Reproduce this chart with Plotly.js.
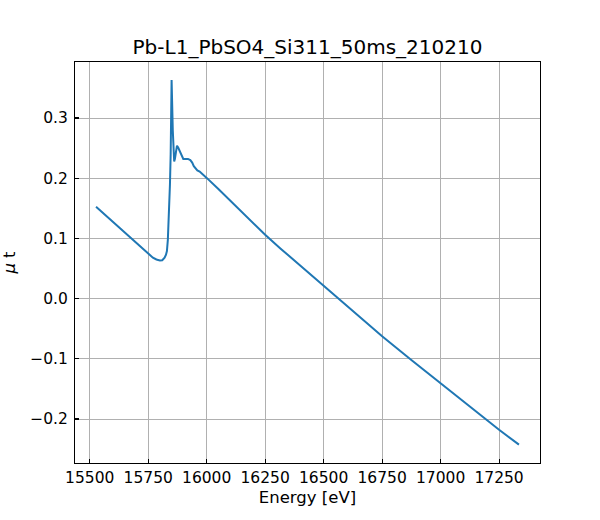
<!DOCTYPE html>
<html>
<head>
<meta charset="utf-8">
<script src="https://cdn.plot.ly/plotly-3.0.1.min.js"></script>
<style>
  html, body { margin: 0; padding: 0; background: #fff; }
  #chart { width: 600px; height: 520px; }
</style>
</head>
<body>
<div id="chart"></div>
<script>
  // Pb L1-edge spectrum
  const chartTitle = 'Pb-L1_PbSO4_Si311_50ms_210210';

  const energy = [
    15527, 15600, 15665, 15700, 15747, 15770, 15785, 15800, 15810, 15820,
    15826, 15830, 15834, 15837, 15840, 15843, 15846, 15848, 15850, 15852,
    15855, 15858, 15861, 15864, 15868, 15873, 15878, 15884, 15890, 15895,
    15900, 15910, 15920, 15930, 15938, 15945, 15952, 15960, 15970, 15985,
    16000, 16050, 16100, 16150, 16200, 16250, 16315, 16400, 16500, 16600,
    16750, 16875, 17000, 17125, 17250, 17335
  ];

  const mu = [
    0.1526, 0.127, 0.1038, 0.0915, 0.075, 0.068, 0.065, 0.0635, 0.0638, 0.068,
    0.073, 0.079, 0.098, 0.125, 0.16, 0.19, 0.24, 0.30, 0.363, 0.33,
    0.28, 0.245, 0.228, 0.232, 0.245, 0.254, 0.251, 0.246, 0.239, 0.234,
    0.232, 0.232, 0.232, 0.230, 0.226, 0.220, 0.216, 0.213, 0.211, 0.206,
    0.2005, 0.182, 0.163, 0.145, 0.126, 0.106, 0.0834, 0.055, 0.021, -0.0124,
    -0.0624, -0.102, -0.141, -0.179, -0.2177, -0.2425
  ];

  const xTicks = [15500, 15750, 16000, 16250, 16500, 16750, 17000, 17250];
  const yTicks = [-0.2, -0.1, 0.0, 0.1, 0.2, 0.3];

  const font = 'DejaVu Sans, sans-serif';
  const gridColor = '#b0b0b0';

  const trace = {
    x: energy,
    y: mu,
    mode: 'lines',
    line: { color: '#1f77b4', width: 2 },
    hoverinfo: 'skip',
  };

  const axisBase = {
    showline: true,
    linecolor: '#000',
    linewidth: 1.1,
    mirror: true,
    ticks: 'inside',
    ticklen: 4,
    tickwidth: 1.1,
    tickcolor: '#000',
    showgrid: true,
    gridcolor: gridColor,
    gridwidth: 1,
    zeroline: false,
    tickfont: { family: font, size: 15.5, color: '#000' },
  };

  const layout = {
    width: 600,
    height: 520,
    paper_bgcolor: '#fff',
    plot_bgcolor: '#fff',
    font: { family: font, color: '#000' },
    margin: { l: 75, r: 60, t: 62, b: 57 },
    showlegend: false,
    title: {
      text: chartTitle,
      font: { family: font, size: 20, color: '#000' },
      x: 0.5125,
      xanchor: 'center',
      y: 0.909,
      yanchor: 'middle',
    },
    xaxis: Object.assign({}, axisBase, {
      range: [15437, 17425],
      tickvals: xTicks,
      ticktext: xTicks.map(String),
      title: { text: 'Energy [eV]', font: { family: font, size: 16.5 }, standoff: 5 },
    }),
    yaxis: Object.assign({}, axisBase, {
      range: [-0.273, 0.393],
      tickvals: yTicks,
      ticktext: yTicks.map((v) => v.toFixed(1).replace('-', '\u2212')),
      ticklabelstandoff: 3,
      title: { text: '<i>\u03bc</i> t', font: { family: font, size: 16.5 }, standoff: 12 },
    }),
  };

  Plotly.newPlot('chart', [trace], layout, { displayModeBar: false, staticPlot: true });
</script>
</body>
</html>
